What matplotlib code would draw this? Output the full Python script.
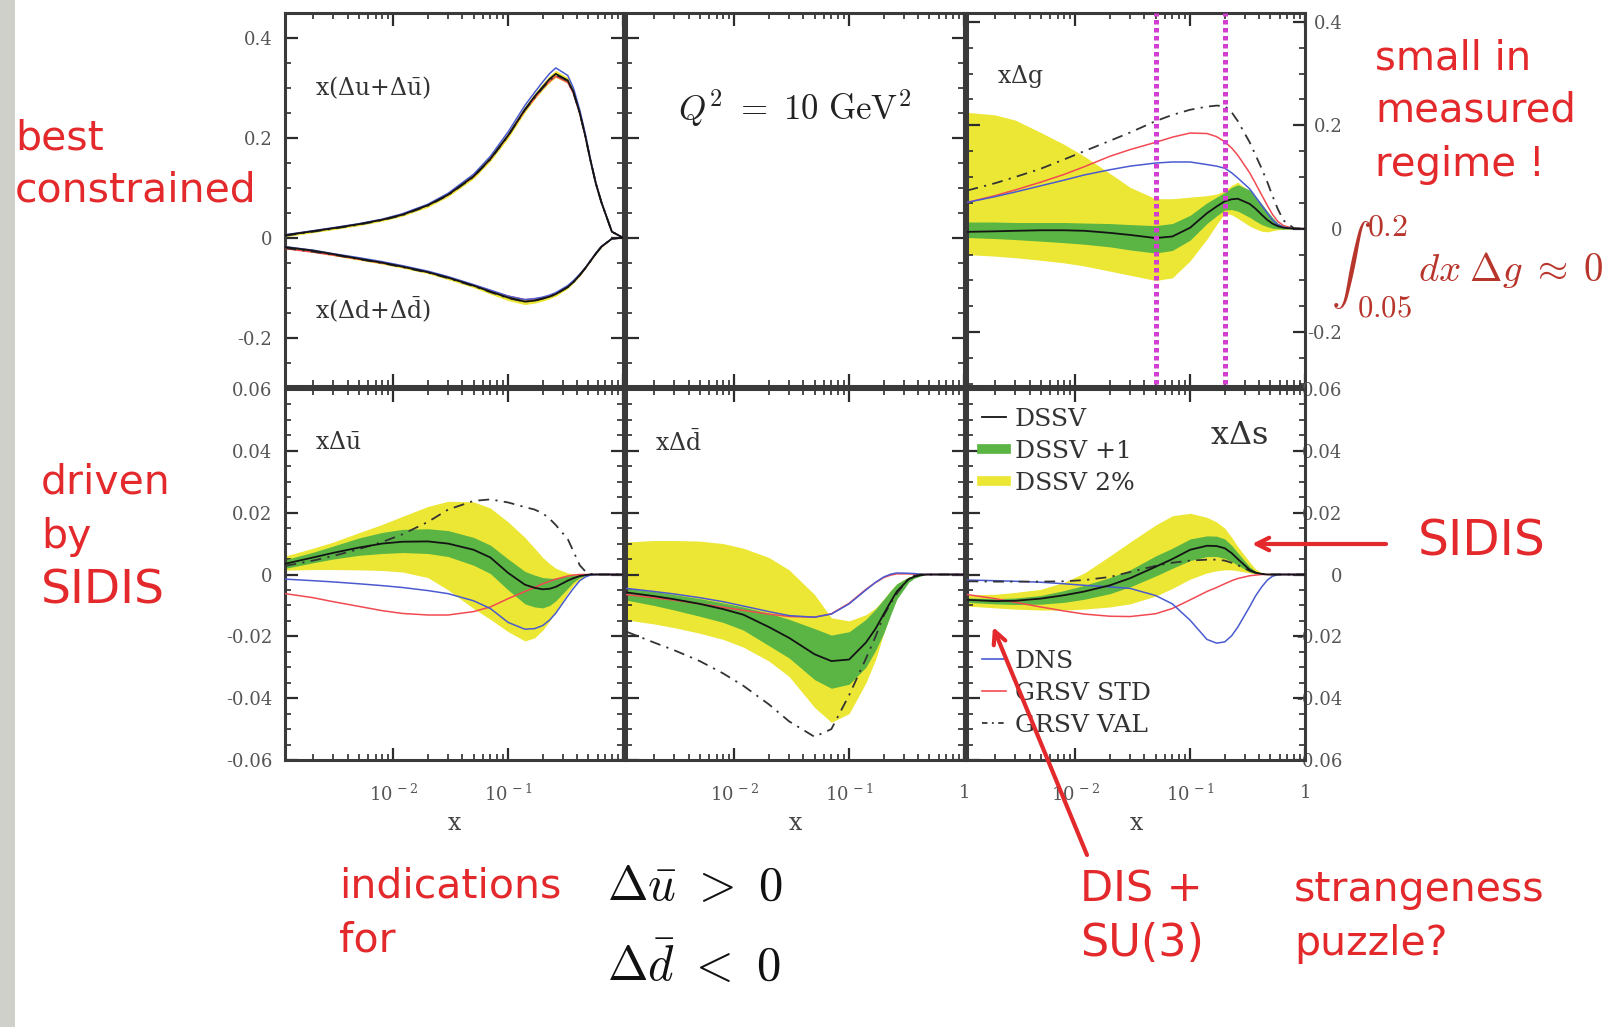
import numpy as np
import matplotlib
matplotlib.use("Agg")
import matplotlib.pyplot as plt
from matplotlib.lines import Line2D
from matplotlib.patches import Rectangle
from matplotlib.ticker import (FixedLocator, FixedFormatter, LogLocator,
                               MultipleLocator, NullFormatter)

# ---------------------------------------------------------------- data
# momentum fraction grid shared by all curves
X_GRID = [0.00115, 0.002, 0.003, 0.005, 0.008, 0.012, 0.02, 0.03, 0.05, 0.07,
          0.1, 0.14, 0.17, 0.2, 0.23, 0.26, 0.33, 0.37, 0.42, 0.47,
          0.52, 0.58, 0.65, 0.8, 1.0]

# x(Δu+Δū)
UP_DSSV = [0.005, 0.013, 0.019, 0.027, 0.036, 0.046, 0.065, 0.086, 0.123, 0.158,
           0.205, 0.257, 0.283, 0.302, 0.318, 0.328, 0.315, 0.292, 0.250, 0.203,
           0.155, 0.108, 0.070, 0.012, 0.0]
UP_2PC_HI = [0.008, 0.016, 0.022, 0.030, 0.039, 0.050, 0.069, 0.090, 0.128, 0.163,
             0.211, 0.263, 0.289, 0.309, 0.325, 0.335, 0.321, 0.298, 0.255, 0.207,
             0.159, 0.111, 0.072, 0.013, 0.0]
UP_2PC_LO = [0.002, 0.010, 0.016, 0.024, 0.033, 0.043, 0.061, 0.082, 0.118, 0.153,
             0.199, 0.251, 0.277, 0.296, 0.311, 0.321, 0.309, 0.286, 0.245, 0.199,
             0.151, 0.105, 0.068, 0.011, 0.0]
UP_DNS = [0.006, 0.014, 0.020, 0.028, 0.037, 0.048, 0.067, 0.089, 0.127, 0.163,
          0.212, 0.265, 0.291, 0.312, 0.329, 0.340, 0.325, 0.300, 0.256, 0.208,
          0.158, 0.110, 0.071, 0.012, 0.0]
UP_STD = [0.005, 0.013, 0.019, 0.027, 0.036, 0.046, 0.065, 0.086, 0.122, 0.157,
          0.204, 0.255, 0.279, 0.299, 0.313, 0.323, 0.311, 0.289, 0.249, 0.203,
          0.156, 0.110, 0.071, 0.012, 0.0]
UP_VAL = [0.004, 0.012, 0.018, 0.026, 0.035, 0.045, 0.064, 0.085, 0.122, 0.157,
          0.204, 0.256, 0.280, 0.300, 0.315, 0.326, 0.314, 0.290, 0.250, 0.203,
          0.156, 0.109, 0.070, 0.012, 0.0]

# x(Δd+Δd̄)
DP_DSSV = [-0.019, -0.026, -0.033, -0.042, -0.050, -0.058, -0.069, -0.080, -0.096, -0.108,
           -0.120, -0.128, -0.126, -0.122, -0.118, -0.113, -0.099, -0.089, -0.075, -0.061,
           -0.047, -0.032, -0.018, -0.002, 0.0]
DP_2PC_HI = [-0.016, -0.023, -0.030, -0.039, -0.047, -0.055, -0.066, -0.077, -0.093, -0.105,
             -0.117, -0.124, -0.123, -0.119, -0.115, -0.110, -0.096, -0.087, -0.073, -0.060,
             -0.046, -0.031, -0.017, -0.002, 0.0]
DP_2PC_LO = [-0.022, -0.029, -0.036, -0.045, -0.053, -0.061, -0.072, -0.084, -0.100, -0.113,
             -0.126, -0.134, -0.131, -0.127, -0.122, -0.117, -0.102, -0.091, -0.077, -0.062,
             -0.048, -0.033, -0.019, -0.002, 0.0]
DP_DNS = [-0.018, -0.025, -0.032, -0.040, -0.048, -0.056, -0.067, -0.078, -0.094, -0.105,
          -0.117, -0.124, -0.122, -0.119, -0.115, -0.110, -0.096, -0.086, -0.073, -0.060,
          -0.046, -0.031, -0.017, -0.002, 0.0]
DP_STD = [-0.022, -0.029, -0.035, -0.043, -0.051, -0.058, -0.069, -0.080, -0.095, -0.106,
          -0.117, -0.124, -0.123, -0.120, -0.116, -0.112, -0.098, -0.088, -0.075, -0.061,
          -0.047, -0.032, -0.018, -0.002, 0.0]
DP_VAL = [-0.021, -0.028, -0.034, -0.043, -0.051, -0.059, -0.070, -0.081, -0.097, -0.109,
          -0.121, -0.128, -0.126, -0.122, -0.118, -0.113, -0.099, -0.089, -0.075, -0.061,
          -0.047, -0.032, -0.018, -0.002, 0.0]

# xΔg
G_DSSV = [-0.006, -0.005, -0.004, -0.003, -0.003, -0.004, -0.008, -0.012, -0.018, -0.015,
          0.002, 0.030, 0.043, 0.053, 0.057, 0.058, 0.048, 0.039, 0.027, 0.017,
          0.010, 0.005, 0.002, 0.0, 0.0]
G_1_HI = [0.013, 0.013, 0.012, 0.012, 0.012, 0.011, 0.010, 0.008, 0.006, 0.010,
          0.026, 0.050, 0.061, 0.070, 0.080, 0.085, 0.075, 0.063, 0.048, 0.034,
          0.022, 0.011, 0.005, 0.0005, 0.0]
G_1_LO = [-0.017, -0.019, -0.021, -0.024, -0.027, -0.030, -0.035, -0.041, -0.047, -0.042,
          -0.022, 0.010, 0.025, 0.036, 0.037, 0.034, 0.022, 0.015, 0.008, 0.004,
          0.001, 0.0, -0.001, 0.0, 0.0]
G_2PC_HI = [0.225, 0.220, 0.210, 0.186, 0.163, 0.140, 0.107, 0.080, 0.058, 0.058,
            0.061, 0.064, 0.067, 0.073, 0.084, 0.090, 0.072, 0.060, 0.045, 0.030,
            0.018, 0.008, 0.003, 0.0, 0.0]
G_2PC_LO = [-0.050, -0.053, -0.056, -0.061, -0.066, -0.072, -0.082, -0.090, -0.100, -0.095,
            -0.062, -0.020, 0.008, 0.030, 0.027, 0.020, 0.005, 0.0, -0.005, -0.006,
            -0.004, -0.002, -0.001, 0.0, 0.0]
G_DNS = [0.051, 0.062, 0.071, 0.083, 0.094, 0.104, 0.114, 0.121, 0.127, 0.129,
         0.129, 0.124, 0.121, 0.117, 0.108, 0.098, 0.077, 0.062, 0.045, 0.030,
         0.017, 0.008, 0.003, 0.0, 0.0]
G_STD = [0.051, 0.064, 0.075, 0.090, 0.105, 0.120, 0.140, 0.153, 0.167, 0.177,
         0.185, 0.184, 0.178, 0.168, 0.156, 0.142, 0.108, 0.088, 0.065, 0.045,
         0.028, 0.014, 0.006, 0.0005, 0.0]
G_VAL = [0.074, 0.088, 0.100, 0.116, 0.134, 0.150, 0.170, 0.186, 0.208, 0.220,
         0.230, 0.236, 0.238, 0.237, 0.225, 0.208, 0.167, 0.143, 0.116, 0.090,
         0.064, 0.038, 0.016, 0.001, 0.0]
G_WINDOW = [0.05, 0.2]

# xΔū
UB_DSSV = [0.0035, 0.0055, 0.0070, 0.0087, 0.0100, 0.0106, 0.0107, 0.0100, 0.0080, 0.0055,
           0.0005, -0.0033, -0.0043, -0.0048, -0.0046, -0.0040, -0.0020, -0.0012, -0.0005, -0.0002,
           0.0, 0.0, 0.0, 0.0, 0.0]
UB_1_HI = [0.0048, 0.0072, 0.0092, 0.0118, 0.0136, 0.0146, 0.0148, 0.0142, 0.0120, 0.0095,
           0.0050, 0.0010, -0.0002, -0.0010, -0.0012, -0.0012, -0.0005, -0.0002, 0.0, 0.0,
           0.0, 0.0, 0.0, 0.0, 0.0]
UB_1_LO = [0.0020, 0.0038, 0.0050, 0.0062, 0.0068, 0.0071, 0.0068, 0.0058, 0.0030, 0.0003,
           -0.0050, -0.0095, -0.0105, -0.0108, -0.0100, -0.0085, -0.0045, -0.0025, -0.0010, -0.0003,
           0.0, 0.0, 0.0, 0.0, 0.0]
UB_2PC_HI = [0.0060, 0.0085, 0.0105, 0.0135, 0.0162, 0.0188, 0.0220, 0.0237, 0.0235, 0.0215,
             0.0170, 0.0120, 0.0085, 0.0055, 0.0035, 0.0020, 0.0005, 0.0002, 0.0, 0.0,
             0.0, 0.0, 0.0, 0.0, 0.0]
UB_2PC_LO = [0.0014, 0.0016, 0.0016, 0.0015, 0.0013, 0.0008, -0.0010, -0.0050, -0.0110, -0.0145,
             -0.0185, -0.0215, -0.0205, -0.0180, -0.0150, -0.0120, -0.0060, -0.0035, -0.0015, -0.0005,
             0.0, 0.0, 0.0, 0.0, 0.0]
UB_DNS = [-0.0015, -0.0020, -0.0024, -0.0030, -0.0036, -0.0042, -0.0052, -0.0062, -0.0085, -0.0110,
          -0.0155, -0.0177, -0.0175, -0.0165, -0.0147, -0.0125, -0.0070, -0.0045, -0.0020, -0.0008,
          -0.0002, 0.0, 0.0, 0.0, 0.0]
UB_STD = [-0.0062, -0.0075, -0.0088, -0.0103, -0.0117, -0.0126, -0.0131, -0.0131, -0.0120, -0.0105,
          -0.0078, -0.0055, -0.0042, -0.0030, -0.0022, -0.0015, -0.0005, -0.0002, 0.0, 0.0,
          0.0, 0.0, 0.0, 0.0, 0.0]
UB_VAL = [0.0028, 0.0045, 0.0060, 0.0082, 0.0105, 0.0130, 0.0170, 0.0210, 0.0238, 0.0243,
          0.0233, 0.0218, 0.0210, 0.0198, 0.0180, 0.0160, 0.0115, 0.0075, 0.0030, 0.0010,
          0.0002, 0.0, 0.0, 0.0, 0.0]

# xΔd̄
DB_DSSV = [-0.0058, -0.0070, -0.0080, -0.0095, -0.0112, -0.0130, -0.0170, -0.0205, -0.0258, -0.0280,
           -0.0275, -0.0220, -0.0175, -0.0128, -0.0088, -0.0055, -0.0015, -0.0007, -0.0002, 0.0,
           0.0, 0.0, 0.0, 0.0, 0.0]
DB_1_HI = [-0.0045, -0.0055, -0.0065, -0.0078, -0.0092, -0.0105, -0.0125, -0.0145, -0.0175, -0.0196,
           -0.0185, -0.0145, -0.0112, -0.0080, -0.0052, -0.0030, -0.0008, -0.0003, 0.0, 0.0,
           0.0, 0.0, 0.0, 0.0, 0.0]
DB_1_LO = [-0.0083, -0.0100, -0.0115, -0.0135, -0.0155, -0.0180, -0.0230, -0.0270, -0.0340, -0.0368,
           -0.0355, -0.0300, -0.0245, -0.0190, -0.0130, -0.0080, -0.0025, -0.0012, -0.0005, 0.0,
           0.0, 0.0, 0.0, 0.0, 0.0]
DB_2PC_HI = [0.0105, 0.0110, 0.0110, 0.0108, 0.0100, 0.0085, 0.0055, 0.0015, -0.0065, -0.0140,
             -0.0150, -0.0130, -0.0108, -0.0080, -0.0052, -0.0030, -0.0008, -0.0003, 0.0, 0.0,
             0.0, 0.0, 0.0, 0.0, 0.0]
DB_2PC_LO = [-0.0147, -0.0160, -0.0172, -0.0190, -0.0210, -0.0235, -0.0280, -0.0330, -0.0430, -0.0478,
             -0.0450, -0.0350, -0.0275, -0.0190, -0.0125, -0.0075, -0.0020, -0.0008, -0.0003, 0.0,
             0.0, 0.0, 0.0, 0.0, 0.0]
DB_DNS = [-0.0045, -0.0055, -0.0063, -0.0075, -0.0088, -0.0102, -0.0120, -0.0133, -0.0138, -0.0128,
          -0.0095, -0.0050, -0.0025, -0.0008, 0.0001, 0.0005, 0.0004, 0.0003, 0.0001, 0.0,
          0.0, 0.0, 0.0, 0.0, 0.0]
DB_STD = [-0.0065, -0.0075, -0.0083, -0.0095, -0.0106, -0.0116, -0.0128, -0.0136, -0.0138, -0.0127,
          -0.0093, -0.0048, -0.0026, -0.0010, -0.0002, 0.0002, 0.0002, 0.0001, 0.0, 0.0,
          0.0, 0.0, 0.0, 0.0, 0.0]
DB_VAL = [-0.0185, -0.0220, -0.0245, -0.0280, -0.0320, -0.0360, -0.0420, -0.0475, -0.0525, -0.0500,
          -0.0390, -0.0272, -0.0200, -0.0133, -0.0093, -0.0062, -0.0012, -0.0004, 0.0, 0.0,
          0.0, 0.0, 0.0, 0.0, 0.0]

# xΔs
S_DSSV = [-0.0082, -0.0086, -0.0085, -0.0078, -0.0067, -0.0055, -0.0035, -0.0012, 0.0025, 0.0050,
          0.0080, 0.0093, 0.0092, 0.0085, 0.0069, 0.0050, 0.0015, 0.0006, 0.0002, 0.0,
          0.0, 0.0, 0.0, 0.0, 0.0]
S_1_HI = [-0.0076, -0.0078, -0.0076, -0.0068, -0.0052, -0.0035, -0.0010, 0.0015, 0.0060, 0.0085,
          0.0115, 0.0125, 0.0124, 0.0115, 0.0094, 0.0070, 0.0025, 0.0011, 0.0003, 0.0,
          0.0, 0.0, 0.0, 0.0, 0.0]
S_1_LO = [-0.0090, -0.0095, -0.0097, -0.0096, -0.0090, -0.0080, -0.0062, -0.0040, -0.0005, 0.0020,
          0.0045, 0.0058, 0.0058, 0.0052, 0.0042, 0.0030, 0.0008, 0.0003, 0.0, 0.0,
          0.0, 0.0, 0.0, 0.0, 0.0]
S_2PC_HI = [-0.0066, -0.0064, -0.0058, -0.0048, -0.0025, 0.0005, 0.0060, 0.0105, 0.0160, 0.0190,
            0.0198, 0.0185, 0.0170, 0.0150, 0.0120, 0.0090, 0.0040, 0.0018, 0.0005, 0.0,
            0.0, 0.0, 0.0, 0.0, 0.0]
S_2PC_LO = [-0.0102, -0.0108, -0.0112, -0.0115, -0.0115, -0.0112, -0.0105, -0.0095, -0.0070, -0.0045,
            -0.0015, 0.0005, 0.0012, 0.0015, 0.0015, 0.0012, 0.0005, 0.0002, 0.0, 0.0,
            0.0, 0.0, 0.0, 0.0, 0.0]
S_DNS = [-0.0018, -0.0020, -0.0022, -0.0025, -0.0030, -0.0035, -0.0040, -0.0045, -0.0068, -0.0095,
         -0.0148, -0.0210, -0.0222, -0.0218, -0.0198, -0.0170, -0.0104, -0.0070, -0.0040, -0.0018,
         -0.0006, 0.0, 0.0, 0.0, 0.0]
S_STD = [-0.0065, -0.0078, -0.0090, -0.0105, -0.0118, -0.0128, -0.0135, -0.0136, -0.0127, -0.0110,
         -0.0082, -0.0055, -0.0042, -0.0030, -0.0020, -0.0013, -0.0004, -0.0002, 0.0, 0.0,
         0.0, 0.0, 0.0, 0.0, 0.0]
S_VAL = [-0.0022, -0.0023, -0.0023, -0.0023, -0.0022, -0.0018, -0.0008, 0.0008, 0.0028, 0.0038,
         0.0045, 0.0048, 0.0048, 0.0045, 0.0038, 0.0030, 0.0012, 0.0006, 0.0002, 0.0,
         0.0, 0.0, 0.0, 0.0, 0.0]

LEGEND_TOP = ["DSSV", "DSSV +1", "DSSV 2%"]
LEGEND_BOTTOM = ["DNS", "GRSV STD", "GRSV VAL"]
Y_TICKS_TOP = [-0.2, 0.0, 0.2, 0.4]
Y_LABELS_TOP = ["-0.2", "0", "0.2", "0.4"]
Y_TICKS_BOT = [-0.06, -0.04, -0.02, 0.0, 0.02, 0.04, 0.06]
Y_LABELS_BOT = ["-0.06", "-0.04", "-0.02", "0", "0.02", "0.04", "0.06"]
X_TICKS = [1e-2, 1e-1, 1.0]

# ---------------------------------------------------------------- style
YELLOW = "#ece735"
GREEN = "#5ab545"
BLUE = "#4a5bd0"
LRED = "#f24a52"
BLACK = "#141414"
ANNOT = "#e3292b"
FRAME = "#3a3a3a"

plt.rcParams["font.family"] = "DejaVu Serif"
plt.rcParams["mathtext.fontset"] = "dejavuserif"

W, H = 1613, 1027
fig = plt.figure(figsize=(W / 100, H / 100), dpi=100)
fig.patch.set_facecolor("white")


def rect(l, t, r, b):
    return [l / W, 1 - b / H, (r - l) / W, (b - t) / H]


COLS = [(285, 623), (626, 964), (967, 1305)]
TOP = (13, 386)
BOT = (389, 760)
XLIM = (1.14e-3, 1.0)
X = np.array(X_GRID)


def frame(ax, ylim, ticks, labels, minor, side, xlabels):
    ax.set_xscale("log")
    ax.set_xlim(*XLIM)
    ax.set_ylim(*ylim)
    ax.xaxis.set_major_locator(FixedLocator(X_TICKS))
    ax.xaxis.set_minor_locator(LogLocator(base=10, subs=np.arange(2, 10) * 1.0, numticks=20))
    ax.xaxis.set_minor_formatter(NullFormatter())
    ax.xaxis.set_major_formatter(FixedFormatter(xlabels if xlabels else ["", "", ""]))
    ax.yaxis.set_major_locator(FixedLocator(ticks))
    ax.yaxis.set_major_formatter(FixedFormatter(labels))
    ax.yaxis.set_minor_locator(MultipleLocator(minor))
    ax.tick_params(which="both", direction="in", top=True, bottom=True, left=True, right=True,
                   color="#2c2c2c", labelcolor="#555555", labelsize=13)
    ax.tick_params(which="major", length=9, width=1.6)
    ax.tick_params(which="minor", length=4.5, width=1.2)
    ax.tick_params(axis="x", pad=17, labelbottom=bool(xlabels))
    if side == "left":
        ax.tick_params(axis="y", labelleft=True, labelright=False, pad=9)
    elif side == "right":
        ax.tick_params(axis="y", labelleft=False, labelright=True, pad=27)
        for t in ax.yaxis.get_major_ticks():
            t.label2.set_horizontalalignment("right")
    else:
        ax.tick_params(axis="y", labelleft=False, labelright=False)
    for s in ax.spines.values():
        s.set_linewidth(2.2)
        s.set_color(FRAME)


def draw(ax, dssv, b1, b2, dns, std, val):
    if b2 is not None:
        ax.fill_between(X, b2[0], b2[1], color=YELLOW, lw=0, zorder=1)
    if b1 is not None:
        ax.fill_between(X, b1[0], b1[1], color=GREEN, lw=0, zorder=2)
    ax.plot(X, std, color=LRED, lw=1.1, zorder=3)
    ax.plot(X, dns, color=BLUE, lw=1.1, zorder=3)
    ax.plot(X, val, color="#333333", lw=1.3, ls=(0, (6, 3.5, 1.2, 3.5)), zorder=4)
    ax.plot(X, dssv, color=BLACK, lw=1.3, zorder=5)


XL1 = [r"$10^{\,-2}$", r"$10^{\,-1}$", ""]
XL2 = [r"$10^{\,-2}$", r"$10^{\,-1}$", "1"]
LBL = dict(color="#333333", va="center")

# top row
ax_q = fig.add_axes(rect(COLS[0][0], TOP[0], COLS[0][1], TOP[1]))
frame(ax_q, (-0.297, 0.45), Y_TICKS_TOP, Y_LABELS_TOP, 0.05, "left", None)
ax_q.fill_between(X, UP_2PC_LO, UP_2PC_HI, color=YELLOW, lw=0, zorder=1)
ax_q.fill_between(X, DP_2PC_LO, DP_2PC_HI, color=YELLOW, lw=0, zorder=1)
draw(ax_q, UP_DSSV, None, None, UP_DNS, UP_STD, UP_VAL)
draw(ax_q, DP_DSSV, None, None, DP_DNS, DP_STD, DP_VAL)
ax_q.text(0.09, 0.80, r"x($\Delta$u+$\Delta\bar{\mathrm{u}}$)", transform=ax_q.transAxes,
          fontsize=17, **LBL)
ax_q.text(0.09, 0.205, r"x($\Delta$d+$\Delta\bar{\mathrm{d}}$)", transform=ax_q.transAxes,
          fontsize=17, **LBL)

ax_e = fig.add_axes(rect(COLS[1][0], TOP[0], COLS[1][1], TOP[1]))
frame(ax_e, (-0.297, 0.45), Y_TICKS_TOP, Y_LABELS_TOP, 0.05, None, None)
ax_e.text(0.5, 0.745, r"$Q^2\ =\ 10\ \mathrm{GeV}^2$", transform=ax_e.transAxes, ha="center",
          va="center", fontsize=25, math_fontfamily="cm", color="#222222")

ax_g = fig.add_axes(rect(COLS[2][0], TOP[0], COLS[2][1], TOP[1]))
frame(ax_g, (-0.304, 0.417), Y_TICKS_TOP, Y_LABELS_TOP, 0.05, "right", None)
draw(ax_g, G_DSSV, (G_1_LO, G_1_HI), (G_2PC_LO, G_2PC_HI), G_DNS, G_STD, G_VAL)
for xv in G_WINDOW:
    ax_g.axvline(xv, ymin=-0.015, ymax=1.0, color="#d23fd0", lw=3.6, ls=(0, (0.9, 0.7)),
                 clip_on=False, zorder=8)
ax_g.text(0.09, 0.83, r"x$\Delta$g", transform=ax_g.transAxes, fontsize=17, **LBL)

# bottom row
ax_u = fig.add_axes(rect(COLS[0][0], BOT[0], COLS[0][1], BOT[1]))
frame(ax_u, (-0.06, 0.06), Y_TICKS_BOT, Y_LABELS_BOT, 0.005, "left", XL1)
draw(ax_u, UB_DSSV, (UB_1_LO, UB_1_HI), (UB_2PC_LO, UB_2PC_HI), UB_DNS, UB_STD, UB_VAL)
ax_u.text(0.09, 0.855, r"x$\Delta\bar{\mathrm{u}}$", transform=ax_u.transAxes, fontsize=17, **LBL)

ax_d = fig.add_axes(rect(COLS[1][0], BOT[0], COLS[1][1], BOT[1]))
frame(ax_d, (-0.06, 0.06), Y_TICKS_BOT, Y_LABELS_BOT, 0.005, None, XL2)
draw(ax_d, DB_DSSV, (DB_1_LO, DB_1_HI), (DB_2PC_LO, DB_2PC_HI), DB_DNS, DB_STD, DB_VAL)
ax_d.text(0.085, 0.855, r"x$\Delta\bar{\mathrm{d}}$", transform=ax_d.transAxes, fontsize=17, **LBL)

ax_s = fig.add_axes(rect(COLS[2][0], BOT[0], COLS[2][1], BOT[1]))
frame(ax_s, (-0.06, 0.06), Y_TICKS_BOT, Y_LABELS_BOT, 0.005, "right", XL2)
draw(ax_s, S_DSSV, (S_1_LO, S_1_HI), (S_2PC_LO, S_2PC_HI), S_DNS, S_STD, S_VAL)
ax_s.text(0.72, 0.875, r"x$\Delta$s", transform=ax_s.transAxes, fontsize=23, **LBL)

for ax in (ax_u, ax_d, ax_s):
    ax.set_xlabel("x", fontsize=17, color="#444444", labelpad=5)

h_top = [Line2D([], [], color=BLACK, lw=1.3),
         Line2D([], [], color=GREEN, lw=7),
         Line2D([], [], color=YELLOW, lw=7)]
h_bot = [Line2D([], [], color=BLUE, lw=1.2),
         Line2D([], [], color=LRED, lw=1.2),
         Line2D([], [], color="#333333", lw=1.3, ls=(0, (3, 2.5, 1, 2.5)))]
leg_kw = dict(frameon=False, fontsize=18, handlelength=0.95, handletextpad=0.35,
              labelspacing=0.36, borderaxespad=0, borderpad=0, labelcolor="#333333")
leg1 = ax_s.legend(h_top, LEGEND_TOP, loc="upper left", bbox_to_anchor=(0.045, 0.95), **leg_kw)
ax_s.add_artist(leg1)
ax_s.legend(h_bot, LEGEND_BOTTOM, loc="upper left", bbox_to_anchor=(0.045, 0.297), **leg_kw)

# ---------------------------------------------------------------- notes
ov = fig.add_axes([0, 0, 1, 1], zorder=20)
ov.set_xlim(0, W)
ov.set_ylim(H, 0)
ov.axis("off")
ov.patch.set_alpha(0)
ov.add_patch(Rectangle((0, 0), 15, H, color="#d0d0ca", lw=0))

note = dict(color=ANNOT, family="DejaVu Sans", va="center", ha="left")
for xp, yp, s, fs in [(15, 139, "best", 29.5), (15, 191, "constrained", 29.5),
                      (41, 483, "driven", 29.5), (41, 537, "by", 29.5), (41, 591, "SIDIS", 34),
                      (1375, 59, "small in", 29), (1375, 111, "measured", 29),
                      (1375, 165, "regime !", 29),
                      (1418, 542, "SIDIS", 35),
                      (339, 887, "indications", 29.5), (339, 941, "for", 29.5),
                      (1080, 890, "DIS +", 31), (1080, 944, "SU(3)", 32),
                      (1294, 890, "strangeness", 29.5), (1294, 944, "puzzle?", 29.5)]:
    ov.text(xp, yp, s, fontsize=fs, **note)

ov.text(607, 887, r"$\Delta\bar{u}\ >\ 0$", fontsize=35, math_fontfamily="cm", va="center",
        color="#111111")
ov.text(607, 967, r"$\Delta\bar{d}\ <\ 0$", fontsize=35, math_fontfamily="cm", va="center",
        color="#111111")

INTEG = "#b8352c"
ov.text(1331, 265, r"$\int$", fontsize=29, math_fontfamily="cm", va="center", color=INTEG)
ov.text(1367, 227, r"$0.2$", fontsize=23, math_fontfamily="cm", va="center", color=INTEG)
ov.text(1357, 308, r"$0.05$", fontsize=22, math_fontfamily="cm", va="center", color=INTEG)
ov.text(1418, 270, r"$dx\;\Delta g\;\approx\;0$", fontsize=28, math_fontfamily="cm",
        va="center", color=INTEG)

arrow = dict(arrowstyle="->,head_length=0.9,head_width=0.45", color=ANNOT, lw=3,
             shrinkA=0, shrinkB=0)
ov.annotate("", xy=(1252, 544), xytext=(1386, 544), arrowprops=arrow)
ov.annotate("", xy=(993, 627), xytext=(1087, 855), arrowprops=arrow)

fig.savefig("out.png", dpi=100, facecolor="white")
